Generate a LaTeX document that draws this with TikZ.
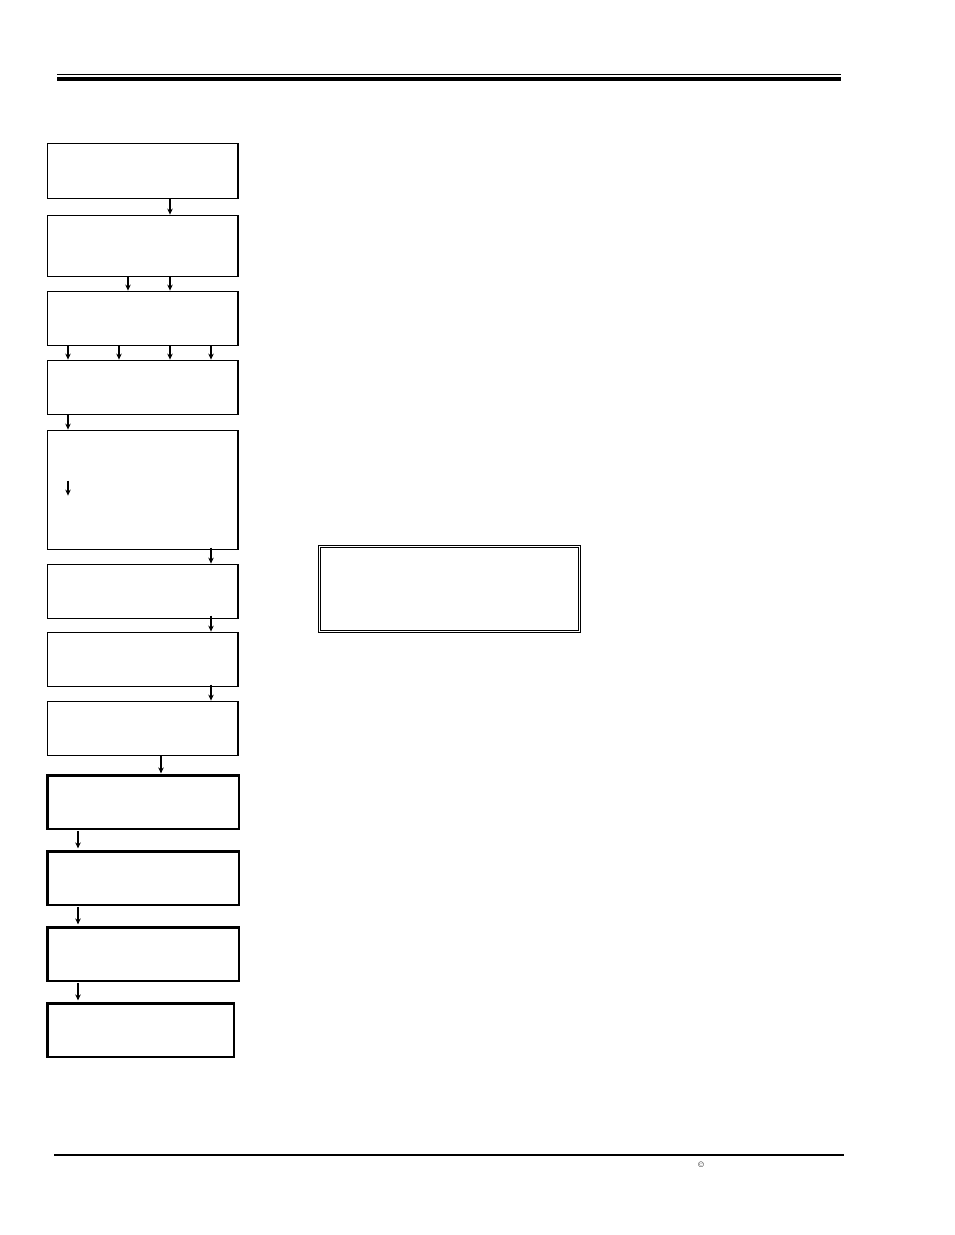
\documentclass[tikz,border=0pt]{standalone}
\usetikzlibrary{arrows.meta}
\begin{document}
\begin{tikzpicture}[x=1pt, y=-1pt,
  box/.style={draw, line width=1.3pt, minimum width=190.5pt, inner sep=0pt, outer sep=0pt, anchor=north west},
  boldbox/.style={box, line width=2.8pt, minimum width=191.5pt},
  arr/.style={-{Stealth[length=6pt, width=5.5pt]}, line width=1.1pt}]

  \useasboundingbox (0,0) rectangle (954,1235);

  %% header and footer rules
  \draw[line width=1pt] (57,74.5) -- (841,74.5);
  \draw[line width=3.6pt] (57,78.8) -- (841,78.8);
  \draw[line width=1.5pt] (54,1155) -- (844,1155);
  \node[font=\fontsize{8}{9}\selectfont, inner sep=0pt] (copy) at (701,1165) {\textcopyright};

  %% left column
  \node[box, minimum height=55] (b1) at (47.6,143.6) {};
  \node[box, minimum height=61] (b2) at (47.6,215.6) {};
  \node[box, minimum height=54] (b3) at (47.6,291.6) {};
  \node[box, minimum height=54] (b4) at (47.6,360.6) {};
  \node[box, minimum height=119] (b5) at (47.6,430.6) {};
  \node[box, minimum height=54] (b6) at (47.6,564.6) {};
  \node[box, minimum height=54] (b7) at (47.6,632.6) {};
  \node[box, minimum height=54] (b8) at (47.6,701.6) {};
  \node[boldbox, minimum height=53.5] (b9) at (47.4,775.4) {};
  \node[boldbox, minimum height=53.5] (b10) at (47.4,851.4) {};
  \node[boldbox, minimum height=53.5] (b11) at (47.4,927.4) {};
  \node[boldbox, minimum height=53.5, minimum width=186.5] (b12) at (47.4,1003.4) {};

  %% right note
  \node[draw, double, double distance=1.2pt, line width=0.8pt, inner sep=0pt,
        minimum width=260, minimum height=85, anchor=north west] (note) at (318.8,545.8) {};

  \draw[arr] ([xshift=122.4pt]b1.south west) -- ([xshift=122.4pt,yshift=1pt]b2.north west); %% b1->b2
  \draw[arr] ([xshift=80.4pt]b2.south west) -- ([xshift=80.4pt,yshift=1pt]b3.north west); %% b2->b3
  \draw[arr] ([xshift=122.4pt]b2.south west) -- ([xshift=122.4pt,yshift=1pt]b3.north west);
  \draw[arr] ([xshift=20.4pt]b3.south west) -- ([xshift=20.4pt,yshift=1pt]b4.north west); %% b3->b4
  \draw[arr] ([xshift=71.4pt]b3.south west) -- ([xshift=71.4pt,yshift=1pt]b4.north west);
  \draw[arr] ([xshift=122.4pt]b3.south west) -- ([xshift=122.4pt,yshift=1pt]b4.north west);
  \draw[arr] ([xshift=163.4pt]b3.south west) -- ([xshift=163.4pt,yshift=1pt]b4.north west);
  \draw[arr] ([xshift=20.4pt]b4.south west) -- ([xshift=20.4pt,yshift=1pt]b5.north west); %% b4->b5
  \draw[arr] ([shift={(20.4,50)}]b5.north west) -- ++(0,15);
  \draw[arr] ([xshift=163.4pt,yshift=2pt]b5.south west) -- ([xshift=163.4pt,yshift=1pt]b6.north west); %% b5->b6
  \draw[arr] ([xshift=163.4pt,yshift=3pt]b6.south west) -- ([xshift=163.4pt,yshift=1pt]b7.north west); %% b6->b7
  \draw[arr] ([xshift=163.4pt,yshift=2pt]b7.south west) -- ([xshift=163.4pt,yshift=1pt]b8.north west); %% b7->b8
  \draw[arr] ([xshift=113.4pt]b8.south west) -- ([xshift=113.6pt,yshift=2pt]b9.north west); %% b8->b9
  \draw[arr] ([xshift=30.6pt,yshift=-2pt]b9.south west) -- ([xshift=30.6pt,yshift=3pt]b10.north west); %% b9->b10
  \draw[arr] ([xshift=30.6pt,yshift=-2pt]b10.south west) -- ([xshift=30.6pt,yshift=3pt]b11.north west); %% b10->b11
  \draw[arr] ([xshift=30.6pt,yshift=-2pt]b11.south west) -- ([xshift=30.6pt,yshift=3pt]b12.north west); %% b11->b12
\end{tikzpicture}
\end{document}
